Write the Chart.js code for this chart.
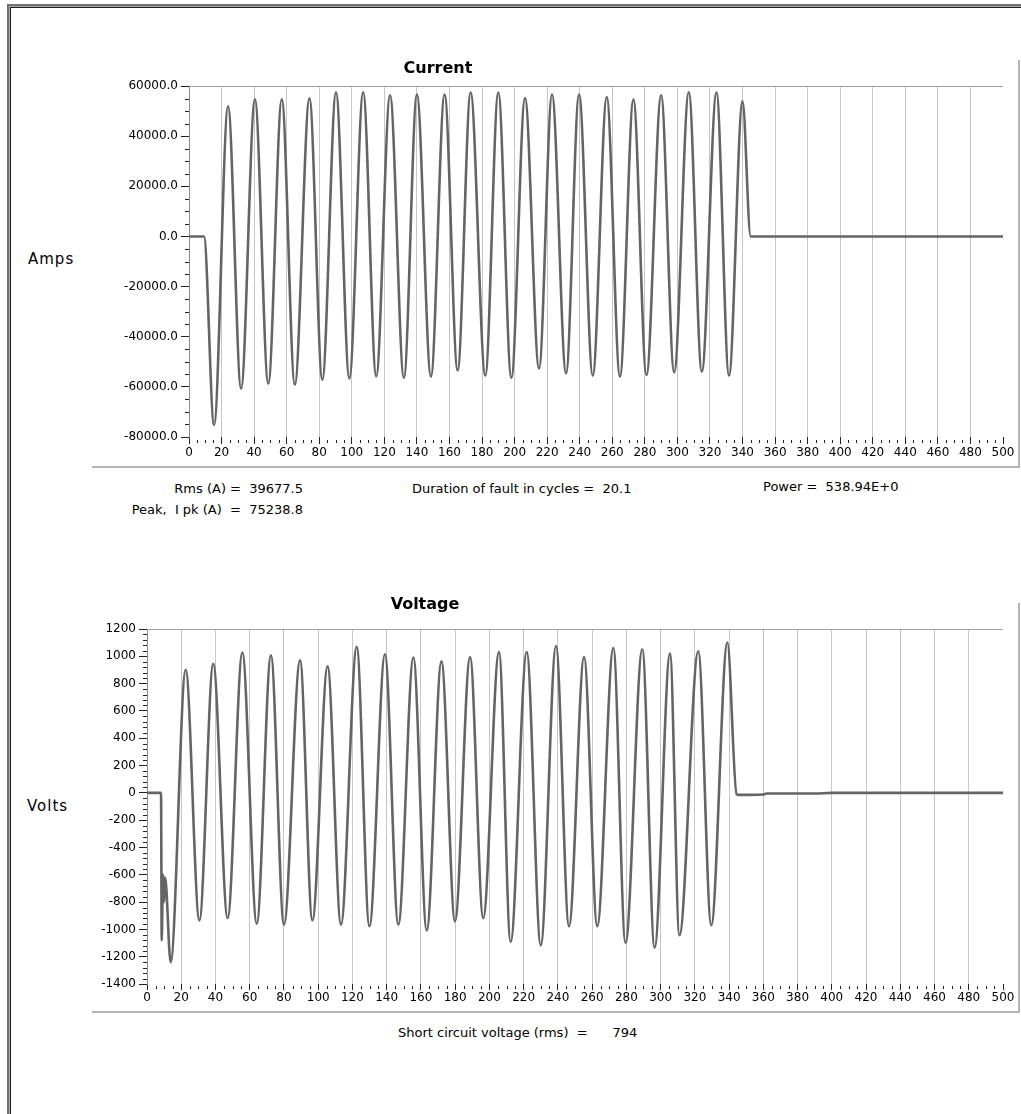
<!DOCTYPE html>
<html>
<head>
<meta charset="utf-8">
<script src="https://cdn.jsdelivr.net/npm/chart.js@4.4.1/dist/chart.umd.min.js"></script>
<style>
  body { margin: 0; background: #fff; font-family: "DejaVu Sans", sans-serif; color: #000; }
  #page { position: relative; width: 1021px; height: 1114px; overflow: hidden; }
  .f1 { position: absolute; left: 7px; top: 4px; width: 1100px; height: 1200px; border-left: 2px solid #707070; border-top: 2px solid #707070; }
  .f2 { position: absolute; left: 9px; top: 6px; width: 1100px; height: 1200px; border-left: 1px solid #a8a8a8; border-top: 1px solid #a8a8a8; }
  .f3 { position: absolute; left: 10px; top: 7px; width: 1100px; height: 1200px; border-left: 1px solid #202020; border-top: 1px solid #202020; }
  .panel { position: absolute; left: 92px; width: 926px; border-right: 2px solid #b4b4b4; border-bottom: 2px solid #b4b4b4; }
  canvas { position: absolute; left: 92px; }
  .txt { position: absolute; white-space: pre; font-size: 13px; line-height: 14px; }
  .title { position: absolute; width: 200px; text-align: center; font-size: 16px; font-weight: bold; line-height: 18px; }
  .ylab { position: absolute; font-size: 15px; letter-spacing: 1px; line-height: 16px; }
</style>
</head>
<body>
<div id="page">
  <div class="f1"></div><div class="f2"></div><div class="f3"></div>

  <div class="panel" style="top:60px;height:406px;"></div>
  <div class="panel" style="top:603px;height:408px;"></div>

  <canvas id="chartCurrent" width="928" height="408" style="top:60px;"></canvas>
  <canvas id="chartVoltage" width="928" height="410" style="top:603px;"></canvas>

  <div class="title" style="left:338px;top:59px;">Current</div>
  <div class="title" style="left:325px;top:595px;">Voltage</div>
  <div class="ylab" style="left:28px;top:251px;">Amps</div>
  <div class="ylab" style="left:27px;top:798px;">Volts</div>

  <div class="txt" style="left:0;width:303px;text-align:right;top:482px;">Rms (A) =  39677.5</div>
  <div class="txt" style="left:412px;top:482px;">Duration of fault in cycles =  20.1</div>
  <div class="txt" style="left:763px;top:480px;">Power =  538.94E+0</div>
  <div class="txt" style="left:0;width:303px;text-align:right;top:503px;">Peak,  I pk (A)  =  75238.8</div>
  <div class="txt" style="left:398px;top:1026px;">Short circuit voltage (rms)  =      794</div>
</div>

<script>
// time axis (ms), same for both plots
const timeMin = 0;
const timeMax = 500;
const timeStep = 20;
const timeMinorStep = 5;

// current waveform: peaks/troughs
const currentX = [0, 9.2, 15.4, 24, 32, 40.5, 48.7, 57, 65, 74, 81.9, 90.3, 98.5, 107, 115, 123.5, 132, 140,
  148.6, 157, 165, 173, 182, 190, 198, 206.4, 215, 223, 231.6, 239.6, 248, 256.6, 264.7, 273, 281, 290,
  298, 307, 315, 324, 331.7, 340, 345, 500];
const currentY = [0, 0, -75200, 51900, -60700, 54700, -58700, 54700, -59100, 55100, -57200, 57500, -56600,
  57500, -55800, 56300, -56400, 56600, -55900, 56600, -53500, 57400, -55500, 57400, -56400, 55200, -52700,
  56600, -54600, 56600, -55500, 55600, -55900, 54600, -55300, 56300, -54200, 57500, -54000, 57400, -55500,
  53900, 0, 0];
const currentMin = -80000;
const currentMax = 60000;
const currentStep = 20000;
const currentMinorStep = 5000;

// voltage waveform
const voltageX = [0, 8.2, 8.6, 9.3, 10, 10.6, 13.8, 22.6, 30.6, 38.7, 47.1, 55.7, 64.1, 72.4, 80, 89.4, 96.6,
  105.5, 113.3, 122.5, 129.9, 139, 146.8, 155.6, 163.4, 172, 179.9, 188.7, 196.4, 205.6, 212.4, 221.8, 230,
  238.9, 246.5, 255.3, 263, 272.4, 279.5, 289.3, 296.5, 305.5, 311, 322, 329.6, 339, 344.4, 346, 360, 362,
  390, 400, 500];
const voltageY = [0, 0, -1080, -600, -800, -620, -1240, 902, -934, 946, -917, 1027, -958, 1007, -965, 970,
  -934, 926, -965, 1069, -977, 1015, -965, 991, -1007, 963, -941, 995, -917, 1032, -1092, 1032, -1116, 1076,
  -977, 995, -977, 1061, -1099, 1052, -1135, 1020, -1043, 1037, -970, 1101, -10, -15, -12, -5, -5, 0, 0];
const voltageMin = -1400;
const voltageMax = 1200;
const voltageStep = 200;
const voltageMinorStep = 40;

const tickFont = { family: '"DejaVu Sans", sans-serif', size: 12 };

// top border line of the plot + small minor ticks on both axes
const extrasPlugin = {
  id: 'extras',
  afterDraw(chart, args, o) {
    const ctx = chart.ctx;
    const a = chart.chartArea;
    const xs = chart.scales.x, ys = chart.scales.y;
    ctx.save();
    ctx.strokeStyle = '#a0a0a0';
    ctx.lineWidth = 1;
    ctx.beginPath();
    ctx.moveTo(a.left, a.top + 0.5);
    ctx.lineTo(a.right, a.top + 0.5);
    ctx.stroke();

    ctx.strokeStyle = '#222';
    ctx.beginPath();
    for (let v = timeMin; v <= timeMax; v += timeMinorStep) {
      if (v % timeStep === 0) continue;
      const px = Math.round(xs.getPixelForValue(v)) + 0.5;
      ctx.moveTo(px, a.bottom + o.xMinorFrom);
      ctx.lineTo(px, a.bottom + o.xMinorTo);
    }
    for (let v = o.min; v <= o.max; v += o.minorStep) {
      if (v % o.step === 0) continue;
      const py = Math.round(ys.getPixelForValue(v)) + 0.5;
      ctx.moveTo(a.left - o.yMinorLen, py);
      ctx.lineTo(a.left, py);
    }
    ctx.stroke();
    ctx.restore();
  }
};

function buildChart(id, xs, ys, o) {
  const points = xs.map((x, i) => ({ x: x, y: ys[i] }));
  return new Chart(document.getElementById(id), {
    type: 'line',
    data: {
      datasets: [{
        data: points,
        borderColor: '#646464',
        borderWidth: 2.6,
        pointRadius: 0,
        fill: false,
        cubicInterpolationMode: 'monotone'
      }]
    },
    options: {
      responsive: false,
      animation: false,
      events: [],
      layout: { padding: { top: 26, right: 17, left: 0, bottom: 0 } },
      plugins: {
        legend: { display: false },
        tooltip: { enabled: false },
        extras: o
      },
      scales: {
        x: {
          type: 'linear',
          min: timeMin,
          max: timeMax,
          afterFit: s => { s.height = o.xHeight; },
          ticks: { stepSize: timeStep, autoSkip: false, maxRotation: 0, padding: o.xPad, color: '#000', font: tickFont },
          grid: {
            color: c => (c.tick && (c.tick.value === timeMin || c.tick.value === timeMax)) ? 'rgba(0,0,0,0)' : '#c6c6c6',
            lineWidth: 1,
            tickColor: '#222',
            tickLength: o.xTick
          },
          border: { display: false }
        },
        y: {
          min: o.min,
          max: o.max,
          afterFit: s => { s.width = o.yWidth; },
          ticks: { stepSize: o.step, padding: 3, color: '#000', font: tickFont, callback: o.fmt },
          grid: { drawOnChartArea: false, tickColor: '#222', tickLength: 8 },
          border: { display: true, color: '#8c8c8c', width: 1 }
        }
      }
    },
    plugins: [extrasPlugin]
  });
}

buildChart('chartCurrent', currentX, currentY, {
  min: currentMin, max: currentMax, step: currentStep, minorStep: currentMinorStep,
  fmt: v => v.toFixed(1),
  yWidth: 97, xHeight: 31, xTick: 7, xPad: 2, xMinorFrom: 3, xMinorTo: 6, yMinorLen: 4
});

buildChart('chartVoltage', voltageX, voltageY, {
  min: voltageMin, max: voltageMax, step: voltageStep, minorStep: voltageMinorStep,
  fmt: v => String(v),
  yWidth: 55, xHeight: 29, xTick: 6, xPad: 1, xMinorFrom: 2, xMinorTo: 5, yMinorLen: 4
});
</script>
</body>
</html>
